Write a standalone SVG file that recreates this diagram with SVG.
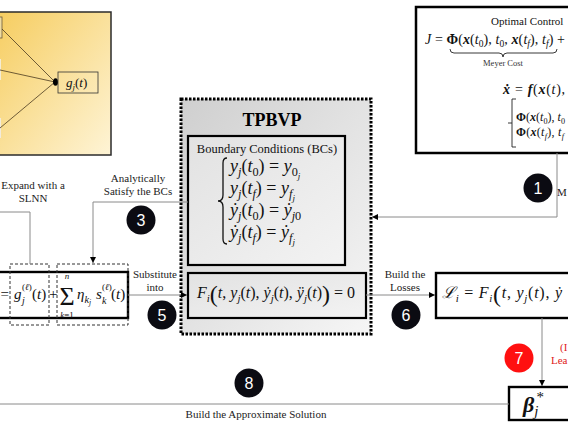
<svg xmlns="http://www.w3.org/2000/svg" width="568" height="426" viewBox="0 0 568 426">
<style>
.m{font-family:"Liberation Serif","DejaVu Serif",serif;font-style:italic;fill:#111}
.r{font-style:normal}
.b{font-weight:bold;font-style:normal}
.bi{font-weight:bold;font-style:italic}
.s{font-size:0.68em}
.ss{font-size:0.5em}
.big{font-size:1.5em;font-style:normal}
.lbl{font-family:"Liberation Serif",serif;font-size:11px;fill:#222;text-anchor:middle}
.box{fill:#fff;stroke:#000;stroke-width:2.4}
.dash{fill:none;stroke:#333;stroke-width:1;stroke-dasharray:3 2}
.con{fill:none;stroke:#8a8a8a;stroke-width:1}
.badge circle{fill:#0b0b12}
.badge text{font-family:"Liberation Sans",Arial,sans-serif;font-size:16px;fill:#fff;text-anchor:middle}
</style>
<defs>
<linearGradient id="yellow" x1="0" y1="0" x2="1" y2="1">
<stop offset="0" stop-color="#f6cd60"/>
<stop offset="1" stop-color="#fef4d6"/>
</linearGradient>
<linearGradient id="grey" x1="0" y1="0" x2="1" y2="1">
<stop offset="0" stop-color="#cfcfcf"/>
<stop offset="1" stop-color="#f6f6f6"/>
</linearGradient>
<linearGradient id="grey2" x1="0" y1="0" x2="1" y2="1">
<stop offset="0" stop-color="#e2e2e2"/>
<stop offset="1" stop-color="#f3f3f3"/>
</linearGradient>
<marker id="ah" viewBox="0 0 10 10" refX="10" refY="5" markerWidth="6" markerHeight="6" orient="auto" markerUnits="userSpaceOnUse">
<path d="M0,0 L10,5 L0,10 z" fill="#000"/>
</marker>
</defs>

<g id="nn-block">
<rect x="-2" y="12" width="113" height="143" fill="url(#yellow)" stroke="#2b2b2b" stroke-width="1.5"/>
<rect x="-10" y="17" width="12" height="21" fill="#f0dca0" stroke="#6b5a3a" stroke-width="0.8"/>
<rect x="-10" y="59" width="11" height="21" fill="#f4ecd4"/>
<rect x="-10" y="118" width="11" height="20" fill="#f2ebdc"/>
<g stroke="#4a3a20" stroke-width="0.8">
<line x1="2" y1="29" x2="55" y2="82"/>
<line x1="0" y1="70" x2="55" y2="82"/>
<line x1="0" y1="128" x2="55" y2="82"/>
</g>
<ellipse cx="55.5" cy="82" rx="2.5" ry="3.8" fill="#000"/>
<rect x="58" y="72" width="40" height="21" fill="none" stroke="#333" stroke-width="0.8"/>
<text class="m" x="66" y="87" font-size="13">g<tspan class="s" dy="3">j</tspan><tspan class="r" dy="-3">(</tspan>t<tspan class="r">)</tspan></text>
</g>

<g id="tpbvp">
<rect x="181" y="99" width="190" height="235" fill="url(#grey)" stroke="#000" stroke-width="3" stroke-dasharray="2.5 1.5"/>
<text x="272" y="126" font-family="Liberation Serif,serif" font-weight="bold" font-size="18" text-anchor="middle" fill="#000">TPBVP</text>
</g>

<g id="boundary-conditions">
<rect x="188" y="136" width="157" height="129" fill="url(#grey2)" stroke="#000" stroke-width="2.2"/>
<text x="267" y="153" font-family="Liberation Serif,serif" font-size="12.5" text-anchor="middle" fill="#111">Boundary Conditions (BCs)</text>
<path d="M227,158 q-4,0 -4,5 v32 q0,6 -5,6 q5,0 5,6 v32 q0,5 4,5" fill="none" stroke="#111" stroke-width="1.3"/>
<text class="m" x="230" y="172" font-size="18">y<tspan class="s" dy="4">j</tspan><tspan class="r" dy="-4">(</tspan>t<tspan class="s r" dy="4">0</tspan><tspan class="r" dy="-4">) = </tspan>y<tspan class="s r" dy="4">0</tspan><tspan class="ss" dy="3">j</tspan></text>
<text class="m" x="230" y="194" font-size="18">y<tspan class="s" dy="4">j</tspan><tspan class="r" dy="-4">(</tspan>t<tspan class="s" dy="4">f</tspan><tspan class="r" dy="-4">) = </tspan>y<tspan class="s" dy="4">f</tspan><tspan class="ss" dy="3">j</tspan></text>
<text class="m" x="230" y="216" font-size="18">ẏ<tspan class="s" dy="4">j</tspan><tspan class="r" dy="-4">(</tspan>t<tspan class="s r" dy="4">0</tspan><tspan class="r" dy="-4">) = </tspan>ẏ<tspan class="s" dy="4">j</tspan><tspan class="s r">0</tspan></text>
<text class="m" x="230" y="238" font-size="18">ẏ<tspan class="s" dy="4">j</tspan><tspan class="r" dy="-4">(</tspan>t<tspan class="s" dy="4">f</tspan><tspan class="r" dy="-4">) = </tspan>ẏ<tspan class="s" dy="4">f</tspan><tspan class="ss" dy="3">j</tspan></text>
</g>

<g id="ode">
<rect x="188" y="273" width="178" height="45" fill="url(#grey2)" stroke="#000" stroke-width="2.2"/>
<text class="m" x="197" y="298" font-size="16">F<tspan class="s" dy="4">i</tspan><tspan class="big" dy="0">(</tspan><tspan dy="-4">t</tspan><tspan class="r">, </tspan>y<tspan class="s" dy="4">j</tspan><tspan class="r" dy="-4">(</tspan>t<tspan class="r">), </tspan>ẏ<tspan class="s" dy="4">j</tspan><tspan class="r" dy="-4">(</tspan>t<tspan class="r">), </tspan>ÿ<tspan class="s" dy="4">j</tspan><tspan class="r" dy="-4">(</tspan>t<tspan class="r">)</tspan><tspan class="big" dy="4">)</tspan><tspan class="r" dy="-4"> = 0</tspan></text>
</g>

<g id="solution-expansion">
<rect class="box" x="-5" y="272" width="133" height="46"/>
<rect class="dash" x="10" y="264" width="39" height="61"/>
<rect class="dash" x="57" y="264" width="71" height="61"/>
<text class="m" x="0.5" y="299" font-size="15" style="font-style:normal">=</text>
<text class="m" x="14" y="299" font-size="15">g</text>
<text class="m" x="22" y="304" font-size="10">j</text>
<text class="m" x="22" y="290" font-size="9"><tspan class="r">(</tspan>ℓ<tspan class="r">)</tspan></text>
<text class="m" x="32" y="299" font-size="15" style="font-style:normal">(<tspan style="font-style:italic">t</tspan>)</text>
<text class="m" x="49" y="299" font-size="15" style="font-style:normal">+</text>
<text class="m" x="67" y="305" font-size="26" text-anchor="middle" style="font-style:normal">Σ</text>
<text class="m" x="67" y="279" font-size="9" text-anchor="middle">n</text>
<text class="m" x="67" y="318" font-size="9" text-anchor="middle">k<tspan class="r">=1</tspan></text>
<text class="m" x="77" y="299" font-size="15">η<tspan class="s" dy="4">k</tspan><tspan class="ss" dy="2">j</tspan></text>
<text class="m" x="96" y="299" font-size="15">s</text>
<text class="m" x="102" y="304" font-size="10">k</text>
<text class="m" x="102" y="290" font-size="9"><tspan class="r">(</tspan>ℓ<tspan class="r">)</tspan></text>
<text class="m" x="111" y="299" font-size="15" style="font-style:normal">(<tspan style="font-style:italic">t</tspan>)</text>
</g>

<g id="optimal-control">
<rect x="416" y="7" width="165" height="146" fill="#fff" stroke="#000" stroke-width="2.5"/>
<text x="491" y="25" font-family="Liberation Serif,serif" font-size="11" fill="#111">Optimal Control</text>
<text class="m" x="425" y="44" font-size="14" textLength="140" lengthAdjust="spacing">J<tspan class="r"> = </tspan><tspan class="b">Φ</tspan><tspan class="r">(</tspan><tspan class="bi">x</tspan><tspan class="r">(</tspan>t<tspan class="s r" dy="3">0</tspan><tspan class="r" dy="-3">), </tspan>t<tspan class="s r" dy="3">0</tspan><tspan class="r" dy="-3">, </tspan><tspan class="bi">x</tspan><tspan class="r">(</tspan>t<tspan class="s" dy="3">f</tspan><tspan class="r" dy="-3">), </tspan>t<tspan class="s" dy="3">f</tspan><tspan class="r" dy="-3">) +</tspan></text>
<path d="M450,49 q0,4 4,4 h45 q4,0 4,4 q0,-4 4,-4 h46 q4,0 4,-4" fill="none" stroke="#222" stroke-width="0.9"/>
<text x="503" y="66" font-family="Liberation Serif,serif" font-size="8.5" text-anchor="middle" fill="#333">Meyer Cost</text>
<text class="m" x="503" y="94" font-size="14" textLength="62" lengthAdjust="spacing"><tspan class="bi">ẋ</tspan><tspan class="r"> = </tspan><tspan class="bi">f</tspan><tspan class="r">(</tspan><tspan class="bi">x</tspan><tspan class="r">(</tspan>t<tspan class="r">),</tspan></text>
<path d="M516,99 h-4 v48 h4 M512,123 h-4" fill="none" stroke="#222" stroke-width="0.9"/>
<text class="m" x="516" y="121" font-size="12" textLength="49" lengthAdjust="spacing"><tspan class="b">Φ</tspan><tspan class="r">(</tspan><tspan class="bi">x</tspan><tspan class="r">(</tspan>t<tspan class="s r" dy="3">0</tspan><tspan class="r" dy="-3">), </tspan>t<tspan class="s r" dy="3">0</tspan></text>
<text class="m" x="516" y="136" font-size="12" textLength="48" lengthAdjust="spacing"><tspan class="b">Φ</tspan><tspan class="r">(</tspan><tspan class="bi">x</tspan><tspan class="r">(</tspan>t<tspan class="s" dy="3">f</tspan><tspan class="r" dy="-3">), </tspan>t<tspan class="s" dy="3">f</tspan></text>
</g>

<g id="loss">
<rect class="box" x="436" y="273" width="145" height="45"/>
<text class="m" x="442" y="298" font-size="16" textLength="120" lengthAdjust="spacing">ℒ<tspan class="s" dy="4">i</tspan><tspan class="r" dy="-4"> = </tspan>F<tspan class="s" dy="4">i</tspan><tspan class="big" dy="0">(</tspan><tspan dy="-4">t</tspan><tspan class="r">, </tspan>y<tspan class="s" dy="4">j</tspan><tspan class="r" dy="-4">(</tspan>t<tspan class="r">), </tspan>ẏ</text>
</g>

<g id="beta">
<rect class="box" x="509" y="387" width="70" height="33"/>
<text class="m" x="523" y="412" font-size="22"><tspan class="bi">β</tspan><tspan class="s" dy="4">j</tspan><tspan class="s r" dx="-2" dy="-14">*</tspan></text>
</g>

<g id="connectors">
<polyline class="con" points="0,212 30,212 30,264"/>
<polyline class="con" points="188,202 93,202 93,263" marker-end="url(#ah)"/>
<line class="con" x1="128" y1="295" x2="187" y2="295" marker-end="url(#ah)"/>
<polyline class="con" points="557,153 557,217 372,217" marker-end="url(#ah)"/>
<line class="con" x1="366" y1="295" x2="435" y2="295" marker-end="url(#ah)"/>
<line class="con" x1="542" y1="318" x2="542" y2="386" marker-end="url(#ah)"/>
<line class="con" x1="0" y1="404" x2="509" y2="404"/>
</g>

<g id="labels">
<text class="lbl" x="33" y="189">Expand with a</text>
<text class="lbl" x="33" y="202">SLNN</text>
<text class="lbl" x="138" y="182">Analytically</text>
<text class="lbl" x="138" y="195">Satisfy the BCs</text>
<text class="lbl" x="155" y="278">Substitute</text>
<text class="lbl" x="155" y="291">into</text>
<text class="lbl" x="405" y="278">Build the</text>
<text class="lbl" x="405" y="291">Losses</text>
<text class="lbl" x="256" y="418">Build the Approximate Solution</text>
<text x="557" y="196" font-family="Liberation Serif,serif" font-size="11" fill="#222">M</text>
<text x="560" y="351" font-family="Liberation Serif,serif" font-size="11" fill="#e02020">(I</text>
<text x="551" y="364" font-family="Liberation Serif,serif" font-size="11" fill="#e02020">Lea</text>
</g>

<g id="badges">
<g class="badge"><circle cx="538" cy="188" r="14.5"/><text x="538" y="194">1</text></g>
<g class="badge"><circle cx="141" cy="220" r="14.5"/><text x="141" y="226">3</text></g>
<g class="badge"><circle cx="162" cy="315" r="14.5"/><text x="162" y="321">5</text></g>
<g class="badge"><circle cx="406" cy="315" r="14.5"/><text x="406" y="321">6</text></g>
<g class="badge"><circle cx="519" cy="358" r="14.5" style="fill:#ff1010"/><text x="519" y="364">7</text></g>
<g class="badge"><circle cx="249" cy="383" r="14.5"/><text x="249" y="389">8</text></g>
</g>
</svg>
